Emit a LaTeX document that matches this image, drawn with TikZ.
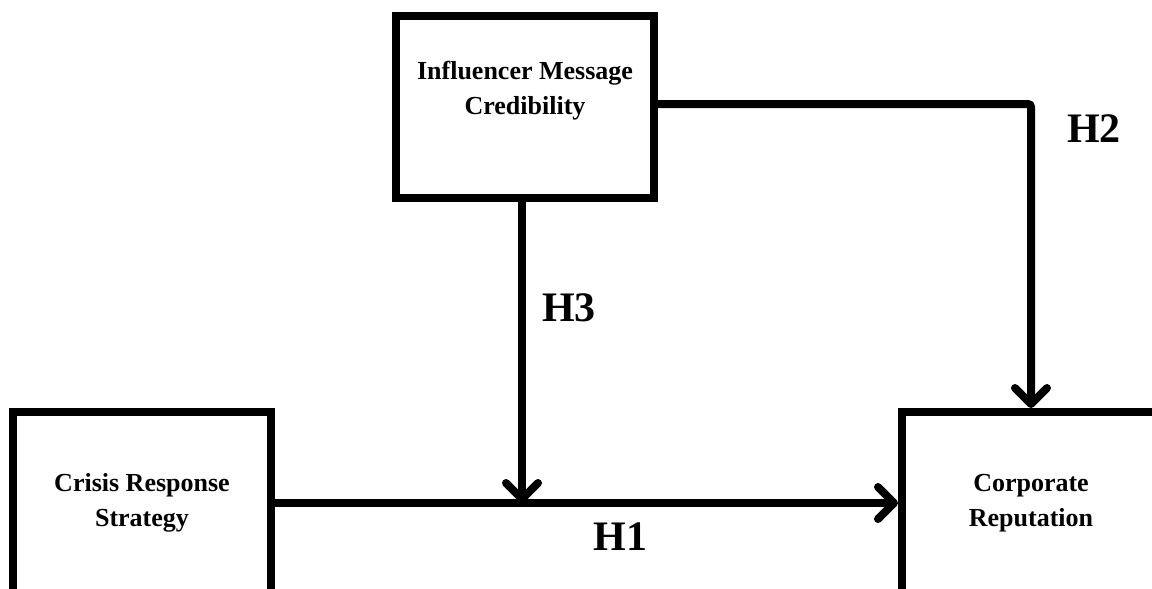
\documentclass[tikz,border=0pt]{standalone}
\usepackage{fontspec}
\setmainfont{Liberation Serif}
\usetikzlibrary{positioning,arrows.meta,calc}

\begin{document}
\begin{tikzpicture}[x=1pt,y=-1pt,
  var/.style={draw,line width=8pt,minimum width=258pt,minimum height=182pt,inner sep=0pt,align=center,font=\fontsize{26}{35}\selectfont\bfseries},
  vtxt/.style={align=center,font=\fontsize{26}{35}\selectfont\bfseries},
  arr/.style={line width=8pt,-{Straight Barb[length=16pt,width=32pt,round]}},
  hyp/.style={font=\fontsize{42}{42}\selectfont\bfseries,inner sep=2pt}]
\clip (0,0) rectangle (1152,589);
\fill[white] (0,0) rectangle (1152,589);
\node[var] (imc) at (525,107) {};
\node[vtxt] (imclbl) at ([yshift=16pt]imc.center) {Influencer Message\\Credibility};
\node[var] (crs) at (142,503) {Crisis Response\\Strategy};
\node[var] (rep) at (1031,503) {Corporate\\Reputation};
\coordinate (mod) at (522,503);
\draw[arr] (crs.east) -- node[hyp,pos=0.555,below=14pt]{H1} (rep.west);
\draw[arr,rounded corners=3pt] ([yshift=3pt]imc.east) -| node[hyp,pos=0.54,right=30pt]{H2} (rep.north);
\draw[arr] (imc.south -| mod) -- node[hyp,pos=0.35,right=14pt]{H3} (mod);
\end{tikzpicture}
\end{document}
